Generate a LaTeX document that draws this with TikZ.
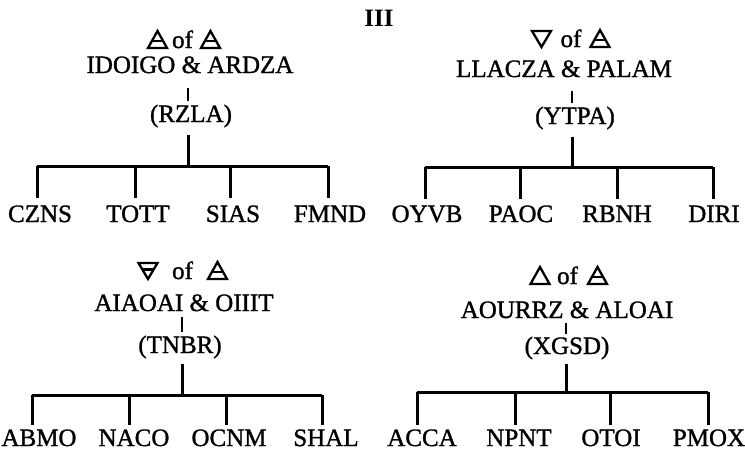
\documentclass[tikz,border=0pt]{standalone}
\usepackage{fontspec}
\setmainfont{Liberation Serif}
\newfontfamily\heavyserif[FakeBold=1.2]{Liberation Serif}
\usetikzlibrary{calc}
\begin{document}
\begin{tikzpicture}[x=1pt,y=-1pt,
  txt/.style={font=\heavyserif\fontsize{25}{30}\selectfont, inner sep=0pt, anchor=base},
  ttl/.style={font=\fontsize{25}{30}\selectfont\bfseries, inner sep=0pt, anchor=base},
  brline/.style={line width=3pt},
  tickline/.style={line width=2.2pt},
  symline/.style={line width=2.3pt, line join=miter},
  fire/.pic={\draw[symline] (-9.5,0) -- (0,-17) -- (9.5,0) -- cycle;},
  air/.pic={\draw[symline] (-9.5,0) -- (0,-17) -- (9.5,0) -- cycle;
            \draw[symline] (-5.6,-7) -- (5.6,-7);},
  water/.pic={\draw[symline] (-9.5,-16) -- (0,0) -- (9.5,-16) -- cycle;},
  earth/.pic={\draw[symline] (-9.5,-16) -- (0,0) -- (9.5,-16) -- cycle;
            \draw[symline] (-5.7,-9.6) -- (5.7,-9.6);}]
\useasboundingbox (0,0) rectangle (745,451);

\node[ttl] (title) at (379,26) {III};

% ---------- top left ----------
\node[txt] (TLof) at (182.5,48) {of};
\pic at ($(TLof.base)+(-25,0)$) {air};
\pic at ($(TLof.base)+(28,0)$) {air};
\node[txt] (TLname) at (190,73) {IDOIGO \& ARDZA};
\node[txt] (TLroot) at (191,122) {(RZLA)};
\coordinate (TLj) at (188,166);
\coordinate (TLb1) at (37,166);
\coordinate (TLb2) at (135,166);
\coordinate (TLb3) at (230,166);
\coordinate (TLb4) at (328,166);
\node[txt] (CZNS) at (40,222) {CZNS};
\node[txt] (TOTT) at (138,222) {TOTT};
\node[txt] (SIAS) at (233,222) {SIAS};
\node[txt] (FMND) at (330,222) {FMND};
\draw[tickline] ($(TLj |- TLname.south)+(0,15)$) -- ($(TLj |- TLroot.north)+(0,-3)$);
\draw[brline] ($(TLj |- TLroot.south)+(0,7)$) -- (TLj);
\draw[brline] (TLb1) -- (TLb4);
\draw[brline] (TLb1) -- ($(TLb1 |- CZNS.north)+(0,-7)$);
\draw[brline] (TLb2) -- ($(TLb2 |- TOTT.north)+(0,-7)$);
\draw[brline] (TLb3) -- ($(TLb3 |- SIAS.north)+(0,-7)$);
\draw[brline] (TLb4) -- ($(TLb4 |- FMND.north)+(0,-7)$);

% ---------- top right ----------
\node[txt] (TRof) at (571,47) {of};
\pic at ($(TRof.base)+(-29.5,0)$) {water};
\pic at ($(TRof.base)+(29,0)$) {air};
\node[txt] (TRname) at (564,77) {LLACZA \& PALAM};
\node[txt] (TRroot) at (575,124) {(YTPA)};
\coordinate (TRj) at (572,167);
\coordinate (TRb1) at (425,167);
\coordinate (TRb2) at (520,167);
\coordinate (TRb3) at (617,167);
\coordinate (TRb4) at (713,167);
\node[txt] (OYVB) at (427,222) {OYVB};
\node[txt] (PAOC) at (521,222) {PAOC};
\node[txt] (RBNH) at (617,222) {RBNH};
\node[txt] (DIRI) at (714,222) {DIRI};
\draw[tickline] ($(TRj |- TRname.south)+(0,14)$) -- ($(TRj |- TRroot.north)+(0,-3)$);
\draw[brline] ($(TRj |- TRroot.south)+(0,7)$) -- (TRj);
\draw[brline] (TRb1) -- (TRb4);
\draw[brline] (TRb1) -- ($(TRb1 |- OYVB.north)+(0,-6)$);
\draw[brline] (TRb2) -- ($(TRb2 |- PAOC.north)+(0,-6)$);
\draw[brline] (TRb3) -- ($(TRb3 |- RBNH.north)+(0,-6)$);
\draw[brline] (TRb4) -- ($(TRb4 |- DIRI.north)+(0,-6)$);

% ---------- bottom left ----------
\node[txt] (BLof) at (182.5,279) {of};
\pic at ($(BLof.base)+(-34.5,0)$) {earth};
\pic at ($(BLof.base)+(35,0)$) {air};
\node[txt] (BLname) at (184,311) {AIAOAI \& OIIIT};
\node[txt] (BLroot) at (180,353) {(TNBR)};
\coordinate (BLj) at (182,395);
\coordinate (BLb1) at (32,395);
\coordinate (BLb2) at (129,395);
\coordinate (BLb3) at (226,395);
\coordinate (BLb4) at (322,395);
\node[txt] (ABMO) at (39,446) {ABMO};
\node[txt] (NACO) at (134,446) {NACO};
\node[txt] (OCNM) at (229,446) {OCNM};
\node[txt] (SHAL) at (326,446) {SHAL};
\draw[tickline] ($(BLj |- BLname.south)+(0,6)$) -- ($(BLj |- BLroot.north)+(0,-3)$);
\draw[brline] ($(BLj |- BLroot.south)+(0,5)$) -- (BLj);
\draw[brline] (BLb1) -- (BLb4);
\draw[brline] (BLb1) -- ($(BLb1 |- ABMO.north)+(0,-4)$);
\draw[brline] (BLb2) -- ($(BLb2 |- NACO.north)+(0,-4)$);
\draw[brline] (BLb3) -- ($(BLb3 |- OCNM.north)+(0,-4)$);
\draw[brline] (BLb4) -- ($(BLb4 |- SHAL.north)+(0,-4)$);

% ---------- bottom right ----------
\node[txt] (BRof) at (567.5,284) {of};
\pic at ($(BRof.base)+(-27.5,0)$) {fire};
\pic at ($(BRof.base)+(30,0)$) {air};
\node[txt] (BRname) at (567,318) {AOURRZ \& ALOAI};
\node[txt] (BRroot) at (567,354) {(XGSD)};
\coordinate (BRj) at (566,392);
\coordinate (BRb1) at (417,392);
\coordinate (BRb2) at (515,392);
\coordinate (BRb3) at (610,392);
\coordinate (BRb4) at (708,392);
\node[txt] (ACCA) at (422,446) {ACCA};
\node[txt] (NPNT) at (519,446) {NPNT};
\node[txt] (OTOI) at (611,446) {OTOI};
\node[txt] (PMOX) at (709,446) {PMOX};
\draw[tickline] ($(BRj |- BRname.south)+(0,5)$) -- ($(BRj |- BRroot.north)+(0,-2)$);
\draw[brline] ($(BRj |- BRroot.south)+(0,4)$) -- (BRj);
\draw[brline] (BRb1) -- (BRb4);
\draw[brline] (BRb1) -- ($(BRb1 |- ACCA.north)+(0,-4)$);
\draw[brline] (BRb2) -- ($(BRb2 |- NPNT.north)+(0,-4)$);
\draw[brline] (BRb3) -- ($(BRb3 |- OTOI.north)+(0,-4)$);
\draw[brline] (BRb4) -- ($(BRb4 |- PMOX.north)+(0,-4)$);
\end{tikzpicture}
\end{document}
